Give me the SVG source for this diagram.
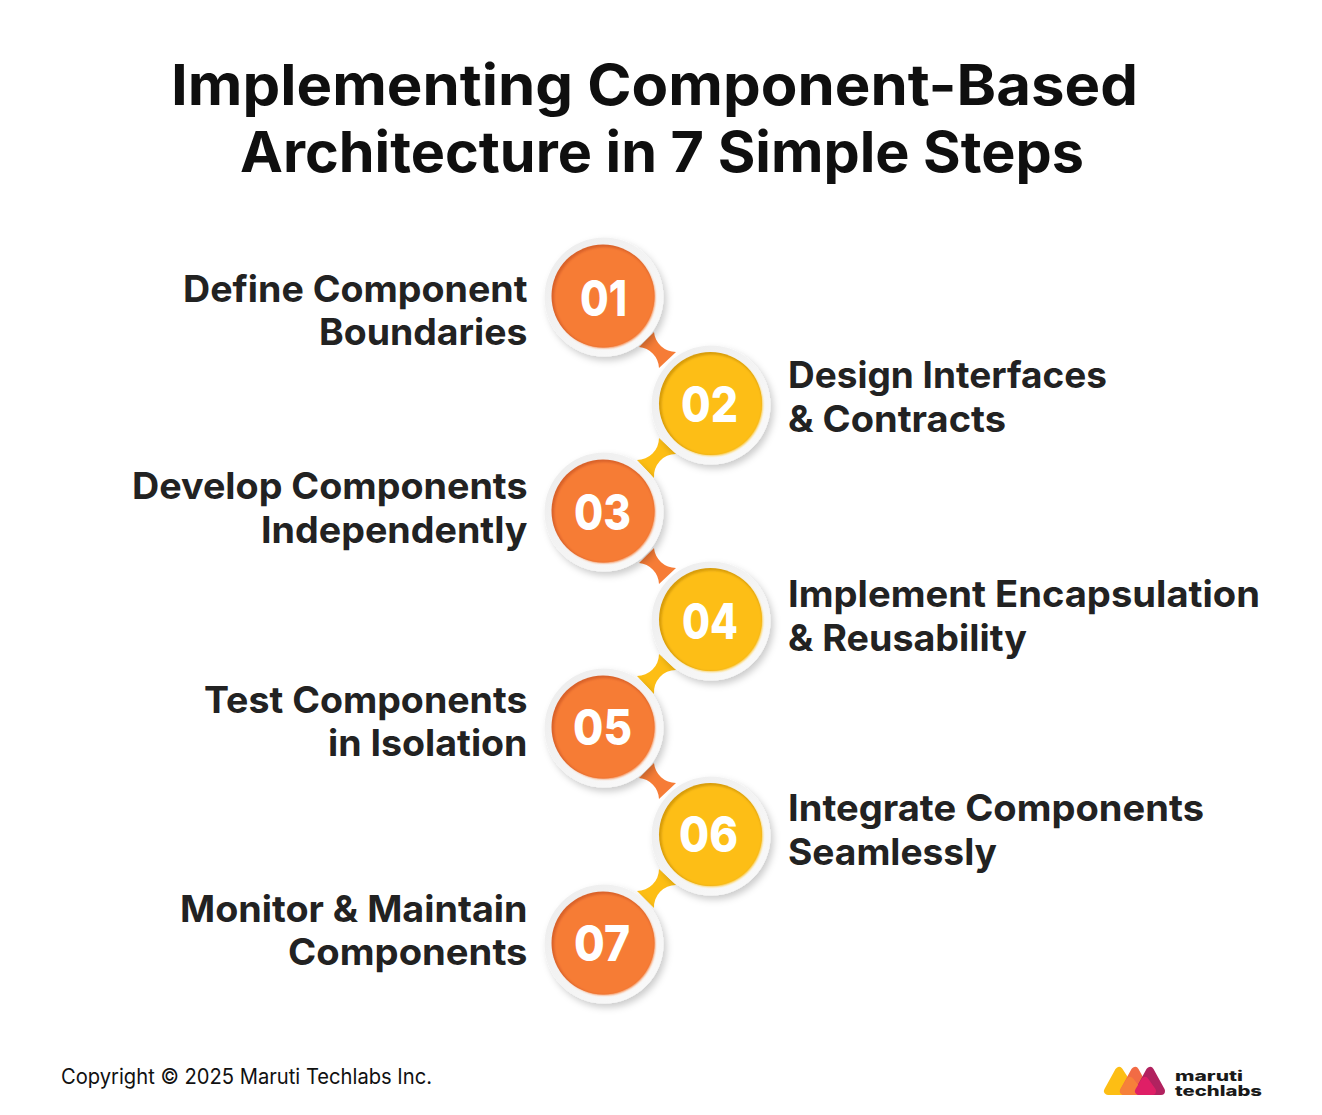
<svg xmlns="http://www.w3.org/2000/svg" width="1322" height="1115" viewBox="0 0 1322 1115">
<defs>
<style>
text{font-family:"Inter","Noto Sans","Liberation Sans",sans-serif}
.t{font-size:56px;font-weight:700;fill:#0f0f0f}
.l{font-size:37px;font-weight:650;fill:#222}
.n{font-size:50px;font-weight:800;fill:#fff}
.c{font-size:21px;font-weight:400;fill:#111}
.b{font-size:14px;font-weight:800;fill:#1a1a1a}
.ring{fill:url(#rg);filter:url(#sh)}
.o{fill:#f67c36}.od{fill:#d9622a}.y{fill:#fdbe14}.yd{fill:#d79c0c}
.lg{stroke-width:8;stroke-linejoin:round}
</style>
<linearGradient id="rg" x1="0" y1="0" x2="1" y2="1"><stop offset="0" stop-color="#ececec"/><stop offset="1" stop-color="#fbfbfb"/></linearGradient>
<filter id="sh" x="-30%" y="-30%" width="160%" height="160%"><feDropShadow dx="3" dy="4" stdDeviation="3.5" flood-color="#000" flood-opacity=".2"/></filter>
<filter id="bl" x="-10%" y="-10%" width="120%" height="120%"><feGaussianBlur stdDeviation="1"/></filter>
</defs>
<rect width="1322" height="1115" fill="#fff"/>
<g id="title">
<text class="t" x="171" y="105" textLength="967" lengthAdjust="spacingAndGlyphs">Implementing Component-Based</text>
<text class="t" x="240" y="172" textLength="844" lengthAdjust="spacingAndGlyphs">Architecture in 7 Simple Steps</text>
</g>
<g id="connectors">
<path class="o" d="M654 332A22 22 0 0 0 676 352L659 368A22 22 0 0 0 639 347Z"/>
<path class="y" d="M659 438A22 22 0 0 1 637 460L654 478A22 22 0 0 1 676 454Z"/>
<path class="o" d="M654 548A22 22 0 0 0 676 568L659 584A22 22 0 0 0 639 563Z"/>
<path class="y" d="M659 654A22 22 0 0 1 637 676L654 694A22 22 0 0 1 676 670Z"/>
<path class="o" d="M654 763A22 22 0 0 0 676 783L659 799A22 22 0 0 0 639 778Z"/>
<path class="y" d="M659 869A22 22 0 0 1 637 891L654 908A22 22 0 0 1 676 885Z"/>
</g>
<g id="step1"><circle class="ring" cx="604" cy="297" r="59.5"/><circle cx="603" cy="296" r="51.5" class="od"/><circle cx="604.5" cy="297.5" r="50.5" class="o" filter="url(#bl)"/><text class="n" x="580" y="316" textLength="47" lengthAdjust="spacingAndGlyphs">01</text>
<text class="l" x="183" y="302" textLength="344.5" lengthAdjust="spacingAndGlyphs">Define Component</text><text class="l" x="319" y="345" textLength="208.5" lengthAdjust="spacingAndGlyphs">Boundaries</text></g>
<g id="step2"><circle class="ring" cx="711" cy="405" r="59.5"/><circle cx="710.5" cy="403.5" r="51.5" class="yd"/><circle cx="712" cy="405" r="50.5" class="y" filter="url(#bl)"/><text class="n" x="681" y="422" textLength="57" lengthAdjust="spacingAndGlyphs">02</text>
<text class="l" x="788" y="388" textLength="319" lengthAdjust="spacingAndGlyphs">Design Interfaces</text><text class="l" x="788" y="432" textLength="218" lengthAdjust="spacingAndGlyphs">&amp; Contracts</text></g>
<g id="step3"><circle class="ring" cx="604" cy="512" r="59.5"/><circle cx="603" cy="511" r="51.5" class="od"/><circle cx="604.5" cy="512.5" r="50.5" class="o" filter="url(#bl)"/><text class="n" x="574" y="530" textLength="57" lengthAdjust="spacingAndGlyphs">03</text>
<text class="l" x="132" y="499" textLength="395.5" lengthAdjust="spacingAndGlyphs">Develop Components</text><text class="l" x="261" y="543" textLength="266.5" lengthAdjust="spacingAndGlyphs">Independently</text></g>
<g id="step4"><circle class="ring" cx="711" cy="621" r="59.5"/><circle cx="710.5" cy="619.5" r="51.5" class="yd"/><circle cx="712" cy="621" r="50.5" class="y" filter="url(#bl)"/><text class="n" x="682" y="639" textLength="56" lengthAdjust="spacingAndGlyphs">04</text>
<text class="l" x="788" y="607" textLength="472" lengthAdjust="spacingAndGlyphs">Implement Encapsulation</text><text class="l" x="788" y="651" textLength="239" lengthAdjust="spacingAndGlyphs">&amp; Reusability</text></g>
<g id="step5"><circle class="ring" cx="604" cy="728" r="59.5"/><circle cx="603" cy="727" r="51.5" class="od"/><circle cx="604.5" cy="728.5" r="50.5" class="o" filter="url(#bl)"/><text class="n" x="573" y="745" textLength="59" lengthAdjust="spacingAndGlyphs">05</text>
<text class="l" x="204" y="713" textLength="323.5" lengthAdjust="spacingAndGlyphs">Test Components</text><text class="l" x="328" y="756" textLength="199.5" lengthAdjust="spacingAndGlyphs">in Isolation</text></g>
<g id="step6"><circle class="ring" cx="711" cy="836" r="59.5"/><circle cx="710.5" cy="834.5" r="51.5" class="yd"/><circle cx="712" cy="836" r="50.5" class="y" filter="url(#bl)"/><text class="n" x="679" y="852" textLength="59" lengthAdjust="spacingAndGlyphs">06</text>
<text class="l" x="788" y="821" textLength="416" lengthAdjust="spacingAndGlyphs">Integrate Components</text><text class="l" x="788" y="865" textLength="209" lengthAdjust="spacingAndGlyphs">Seamlessly</text></g>
<g id="step7"><circle class="ring" cx="604" cy="944" r="59.5"/><circle cx="603" cy="943" r="51.5" class="od"/><circle cx="604.5" cy="944.5" r="50.5" class="o" filter="url(#bl)"/><text class="n" x="574" y="961" textLength="56" lengthAdjust="spacingAndGlyphs">07</text>
<text class="l" x="180" y="922" textLength="347.5" lengthAdjust="spacingAndGlyphs">Monitor &amp; Maintain</text><text class="l" x="288" y="965" textLength="239.5" lengthAdjust="spacingAndGlyphs">Components</text></g>
<g id="footer"><text class="c" x="61" y="1084" textLength="371" lengthAdjust="spacingAndGlyphs">Copyright © 2025 Maruti Techlabs Inc.</text></g>
<g id="logo">
<path class="lg" d="M1119 1071L1108 1091H1132Z" fill="#fdbe14" stroke="#fdbe14"/>
<path class="lg" d="M1135 1071L1124 1091H1146Z" fill="#f26b45" stroke="#f26b45"/>
<path class="lg" d="M1150 1071L1139 1091H1161Z" fill="#b1225f" stroke="#b1225f"/>
<path class="lg" d="M1130 1081L1124 1091H1138Z" fill="#f6813a" stroke="#f6813a"/>
<path class="lg" d="M1145 1081L1139 1091H1152Z" fill="#df1f66" stroke="#df1f66"/>
<text class="b" x="1175" y="1080.5" textLength="68" lengthAdjust="spacingAndGlyphs">maruti</text>
<text class="b" x="1175" y="1095.5" textLength="87" lengthAdjust="spacingAndGlyphs">techlabs</text>
</g>
</svg>
